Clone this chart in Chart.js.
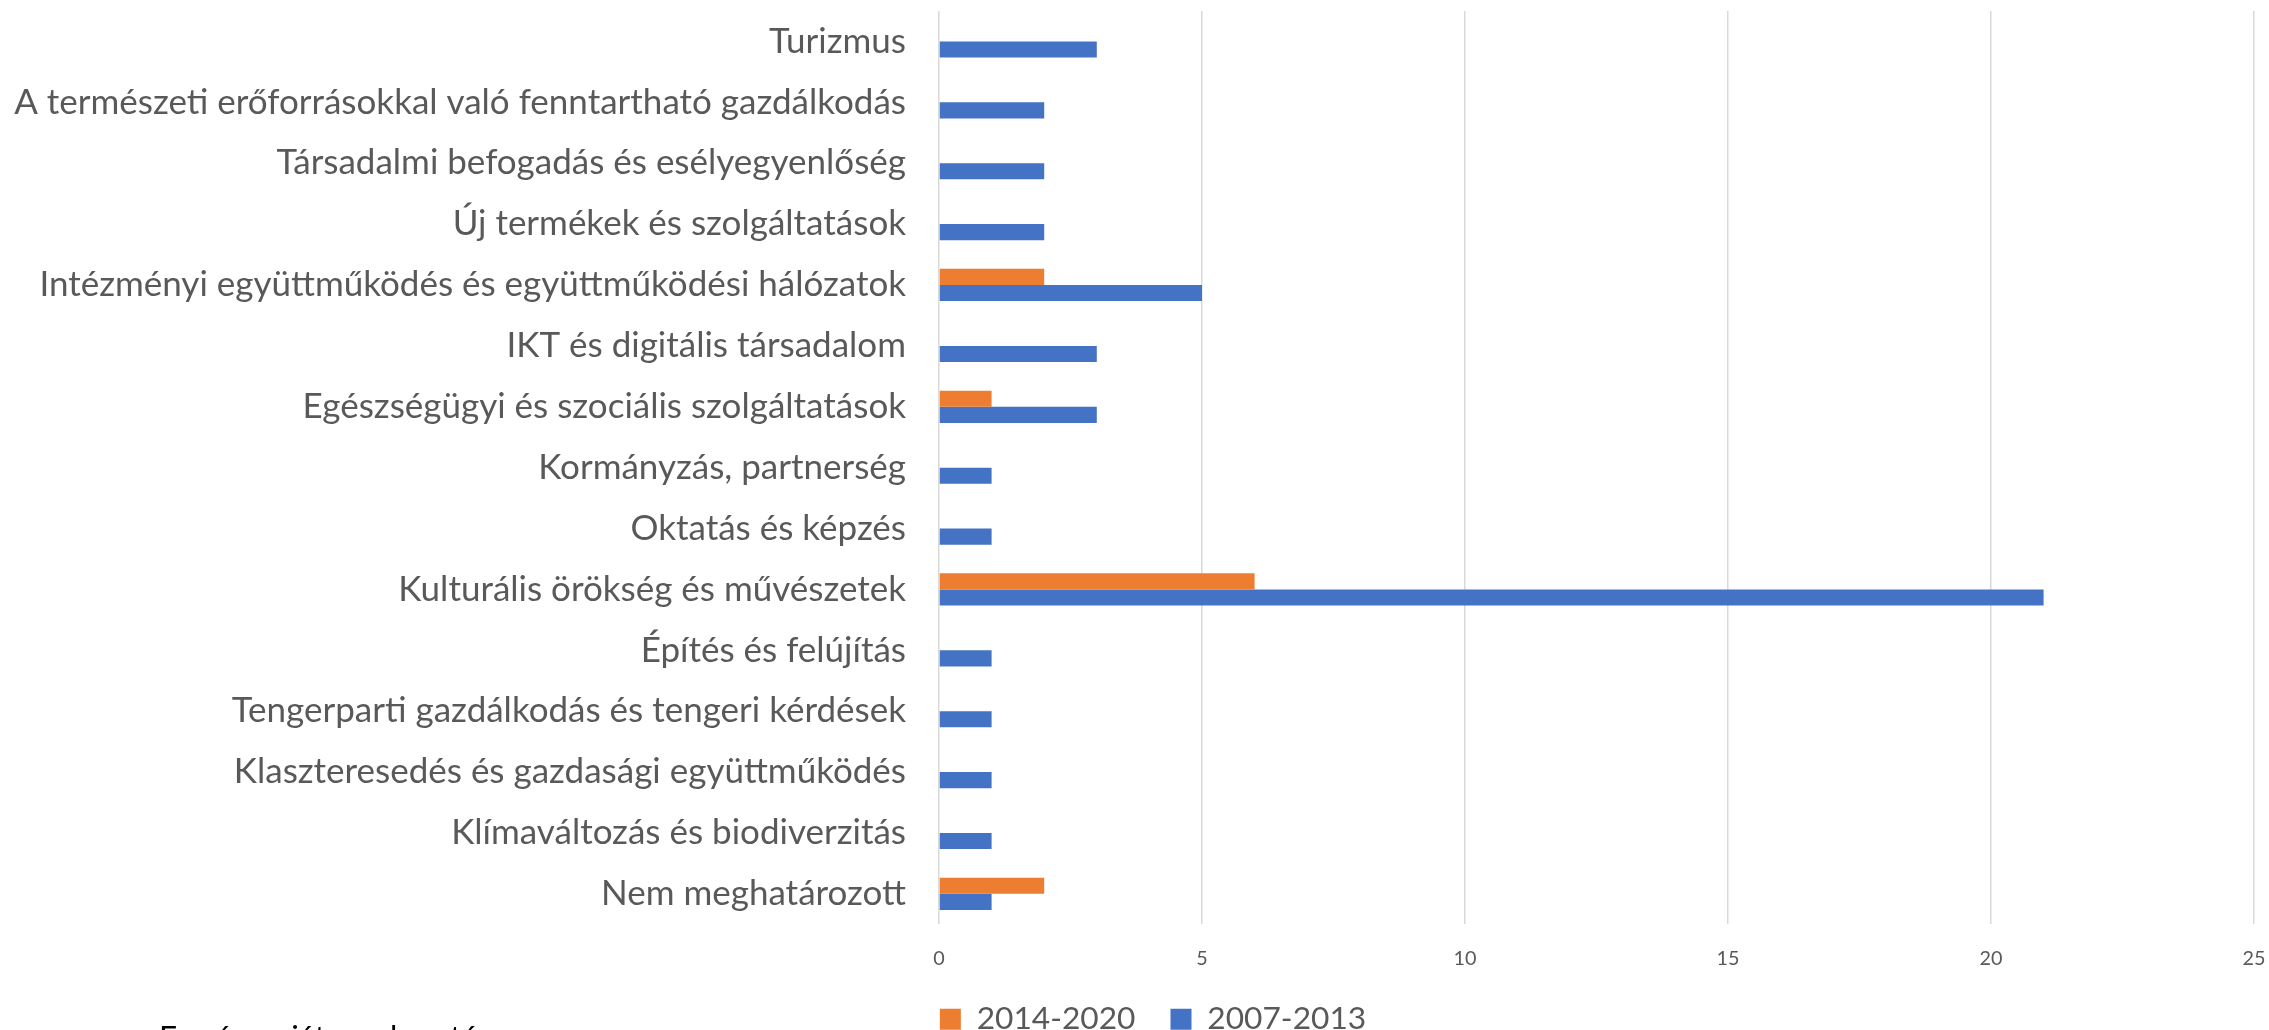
<!DOCTYPE html>
<html>
<head>
<meta charset="utf-8">
<script src="https://cdn.jsdelivr.net/npm/chart.js@4"></script>
<style>
  html, body { margin: 0; padding: 0; background: #fff; overflow: hidden; }
  #wrap { width: 2269px; height: 1030px; overflow: hidden; position: relative; }
</style>
</head>
<body>
<div id="wrap"><canvas id="chart" width="2269" height="1045"></canvas></div>
<script>
const categories = [
  'Turizmus',
  'A természeti erőforrásokkal való fenntartható gazdálkodás',
  'Társadalmi befogadás és esélyegyenlőség',
  'Új termékek és szolgáltatások',
  'Intézményi együttműködés és együttműködési hálózatok',
  'IKT és digitális társadalom',
  'Egészségügyi és szociális szolgáltatások',
  'Kormányzás, partnerség',
  'Oktatás és képzés',
  'Kulturális örökség és művészetek',
  'Építés és felújítás',
  'Tengerparti gazdálkodás és tengeri kérdések',
  'Klaszteresedés és gazdasági együttműködés',
  'Klímaváltozás és biodiverzitás',
  'Nem meghatározott'
];
const seriesNames = ['2014-2020', '2007-2013'];
const values2014 = [null, null, null, null, 2, null, 1, null, null, 6, null, null, null, null, 2];
const values2007 = [3, 2, 2, 2, 5, 3, 3, 1, 1, 21, 1, 1, 1, 1, 1];
const xTicks = [0, 5, 10, 15, 20, 25];

const FONT = 'Lato, "Open Sans", sans-serif';
const TEXT = '#595959';

// size fonts so the text widths match the original
const probe = document.createElement('canvas').getContext('2d');
function fit(text, width) {
  probe.font = '100px ' + FONT;
  return Math.round(100 * width / probe.measureText(text).width * 10) / 10;
}
const labelSize = fit(categories[1], 892);
const legendSize = fit('2007-2013', 159);
const tickSize = fit('20', 23);

const footnote = {
  id: 'footnote',
  // left padding only exists to centre the legend; let the y labels use the full width
  afterLayout(chart) {
    chart.scales.y.left = 0;
  },
  afterDraw(chart) {
    const ctx = chart.ctx;
    ctx.save();
    ctx.font = legendSize + 'px ' + FONT;
    ctx.fillStyle = '#000';
    ctx.textBaseline = 'alphabetic';
    ctx.fillText('Forrás: saját szerkesztés', 159, 1025 + legendSize * 0.72);
    ctx.restore();
  }
};

const ctx = document.getElementById('chart').getContext('2d');
new Chart(ctx, {
  type: 'bar',
  data: {
    labels: categories,
    datasets: [{
      label: seriesNames[0],
      data: values2014,
      backgroundColor: '#ED7D31'
    }, {
      label: seriesNames[1],
      data: values2007,
      backgroundColor: '#4472C4'
    }]
  },
  options: {
    indexAxis: 'y',
    responsive: false,
    animation: false,
    categoryPercentage: 0.53,
    barPercentage: 1,
    layout: { padding: { top: 11, right: 0, left: 37, bottom: 0 } },
    scales: {
      x: {
        min: 0,
        max: 25,
        afterBuildTicks: (scale) => { scale.ticks = xTicks.map(v => ({ value: v })); },
        afterFit: (scale) => {
          scale.height = 44;
          scale.paddingLeft = 0;
          scale.paddingRight = 15;
        },
        grid: { color: '#D9D9D9', lineWidth: 1.5, drawTicks: false },
        border: { display: false },
        ticks: { color: TEXT, font: { family: FONT, size: tickSize }, padding: 22 }
      },
      y: {
        afterFit: (scale) => {
          scale.width = 902;
          scale.paddingTop = 0;
          scale.paddingBottom = 0;
        },
        grid: { display: false, drawTicks: false },
        border: { display: false },
        ticks: { color: TEXT, font: { family: FONT, size: labelSize }, padding: 33, autoSkip: false }
      }
    },
    plugins: {
      tooltip: { enabled: false },
      legend: {
        position: 'bottom',
        labels: {
          color: TEXT,
          font: { family: FONT, size: legendSize },
          boxWidth: 21,
          boxHeight: 21,
          padding: 35
        }
      }
    }
  },
  plugins: [footnote]
});
</script>
</body>
</html>
